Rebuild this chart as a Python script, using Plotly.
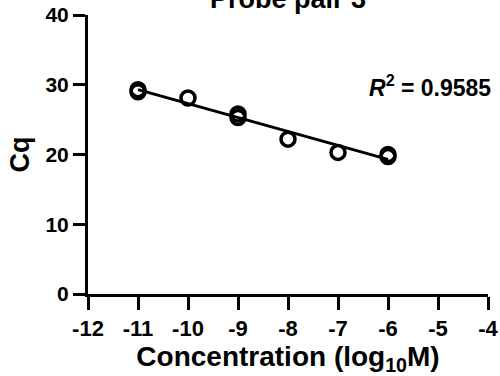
import numpy as np
import plotly.graph_objects as go

conc = [-11, -11, -10, -9, -9, -8, -7, -6, -6]
cq = [29.3, 29.0, 28.1, 25.8, 25.3, 22.2, 20.3, 20.0, 19.7]
x_ticks = [-12, -11, -10, -9, -8, -7, -6, -5, -4]
y_ticks = [0, 10, 20, 30, 40]
title_text = "<b>Probe pair 3</b>"
r2_text = "<b><i>R</i><sup>2</sup> = 0.9585</b>"

slope, intercept = np.polyfit(conc, cq, 1)
fit_x = np.array([min(conc), max(conc)])
fit_y = slope * fit_x + intercept

FONT = "Liberation Sans, Arial, sans-serif"

fig = go.Figure()
fig.add_trace(go.Scatter(x=fit_x, y=fit_y, mode="lines",
                         line=dict(color="black", width=3), showlegend=False))
fig.add_trace(go.Scatter(x=conc, y=cq, mode="markers",
                         marker=dict(symbol="circle-open", size=14, color="black",
                                     line=dict(width=3.5, color="black")),
                         showlegend=False))

fig.update_layout(
    width=500, height=376,
    margin=dict(l=88, r=12, t=15, b=82),
    plot_bgcolor="white", paper_bgcolor="white",
    font=dict(family=FONT, color="black"),
)
fig.update_xaxes(range=[-12, -4], tickvals=x_ticks, ticktext=["<b>%d</b>" % v for v in x_ticks],
                 automargin=False,
                 showgrid=False, zeroline=False, showline=True, linecolor="black", linewidth=3,
                 ticks="outside", ticklen=13, tickwidth=3, tickcolor="black",
                 tickfont=dict(size=22, family=FONT),
                 title=dict(text="<b>Concentration (log<sub>10</sub>M)</b>",
                            font=dict(size=28, family=FONT), standoff=2))
fig.update_yaxes(range=[0, 40], tickvals=y_ticks, ticktext=["<b>%d</b>" % v for v in y_ticks],
                 automargin=False,
                 showgrid=False, zeroline=False, showline=True, linecolor="black", linewidth=3,
                 ticks="outside", ticklen=12, tickwidth=3, tickcolor="black",
                 tickfont=dict(size=21, family=FONT),
                 title=dict(text="<b>Cq</b>", font=dict(size=27, family=FONT), standoff=8))

fig.add_annotation(text=title_text, xref="paper", yref="paper", x=0.5, y=1,
                   xanchor="center", yanchor="bottom", yshift=-1, showarrow=False,
                   font=dict(size=27, family=FONT))
fig.add_annotation(text=r2_text, xref="paper", yref="paper", x=1.012, y=0.745,
                   xanchor="right", yanchor="middle", showarrow=False,
                   font=dict(size=23, family=FONT))

fig.write_html("out.html", config={"displayModeBar": False},
               post_script="document.body.style.margin='0';")
